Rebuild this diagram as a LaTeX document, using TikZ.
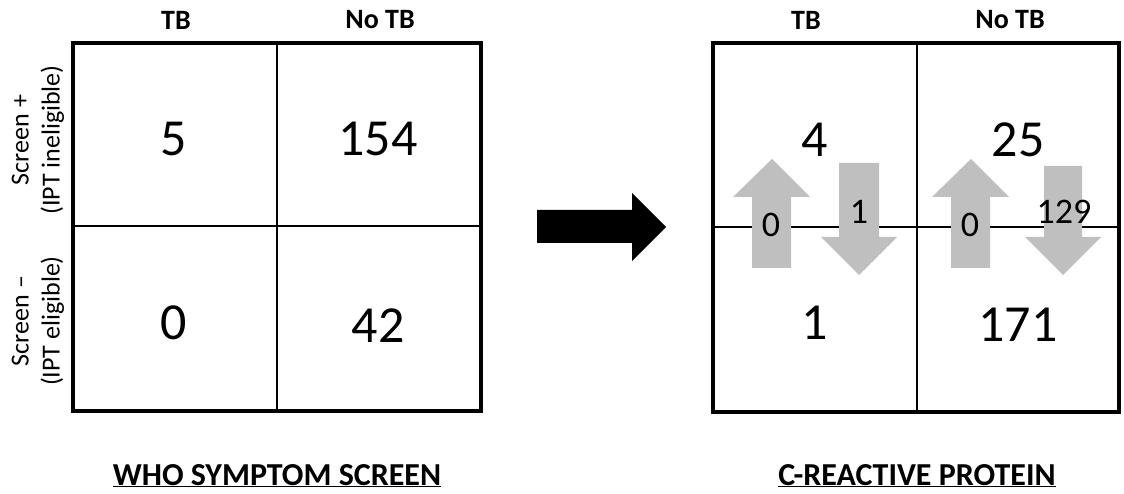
\documentclass[tikz,border=0pt]{standalone}
\usepackage{fontspec}
\setmainfont{Carlito}
\definecolor{arrowgray}{HTML}{BFBFBF}
\tikzset{
  frame/.style={draw=black, line width=3.5pt},
  divider/.style={draw=black, line width=1.2pt},
  count/.style={font=\fontsize{52}{60}\selectfont, inner sep=0pt},
  moved/.style={font=\fontsize{36}{42}\selectfont, inner sep=0pt},
  colhead/.style={font=\bfseries\fontsize{28}{32}\selectfont, inner sep=0pt},
  rowhead/.style={font=\fontsize{26}{31}\selectfont, rotate=90, align=center, inner sep=0pt},
  title/.style={font=\bfseries\fontsize{32}{36}\selectfont, inner sep=0pt},
  shiftarrow/.style={fill=arrowgray},
  bigarrow/.style={fill=black}
}

\begin{document}
\begin{tikzpicture}[x=1pt, y=-1pt]
  \useasboundingbox (0,0) rectangle (1124,494);

  % WHO symptom screen table
  \draw[divider] (277,43) -- (277,411);
  \draw[divider] (73,226) -- (481,226);
  \draw[frame] (73,43) rectangle (481,411);
  \node[colhead] (whoTB) at (176,20) {TB};
  \node[colhead] (whoNoTB) at (380,20) {No TB};
  \node[rowhead] (screenPos) at (38,140) {Screen +\\(IPT ineligible)};
  \node[rowhead] (screenNeg) at (38,321) {Screen --\\(IPT eligible)};
  \node[count] (whoA) at (174,139) {5};
  \node[count] (whoB) at (378,139) {154};
  \node[count] (whoC) at (174,323) {0};
  \node[count] (whoD) at (378,326) {42};
  \node[title, anchor=base] (whoTitle) at (277,485) {\underline{WHO SYMPTOM SCREEN}};

  % arrow between the tables
  \fill[bigarrow] (537,210) -- (632,210) -- (632,193) -- (666,227)
    -- (632,261) -- (632,243) -- (537,243) -- cycle;

  % C-reactive protein table
  \draw[divider] (917,43) -- (917,412);
  \draw[divider] (713,227) -- (1119,227);
  \draw[frame] (713,43) rectangle (1119,412);
  \node[colhead] (crpTB) at (806,20) {TB};
  \node[colhead] (crpNoTB) at (1010,20) {No TB};
  \node[count] (crpA) at (815,140) {4};
  \node[count] (crpB) at (1018,140) {25};
  \node[count] (crpC) at (815,323) {1};
  \node[count] (crpD) at (1018,325) {171};

  % reclassification arrows
  \fill[shiftarrow] (752,268) -- (752,197) -- (733,197) -- (772,159)
    -- (810,197) -- (791,197) -- (791,268) -- cycle;
  \fill[shiftarrow] (839,163) -- (879,163) -- (879,237) -- (897,237)
    -- (859,275) -- (821,237) -- (839,237) -- cycle;
  \fill[shiftarrow] (951,268) -- (951,197) -- (932,197) -- (971,159)
    -- (1009,197) -- (990,197) -- (990,268) -- cycle;
  \fill[shiftarrow] (1044,166) -- (1082,166) -- (1082,237) -- (1101,237)
    -- (1063,275) -- (1025,237) -- (1044,237) -- cycle;
  \node[moved] (upTB) at (771,225) {0};
  \node[moved] (downTB) at (859,212) {1};
  \node[moved] (upNoTB) at (970,225) {0};
  \node[moved] (downNoTB) at (1064,212) {129};

  \node[title, anchor=base] (crpTitle) at (917,485) {\underline{C-REACTIVE PROTEIN}};
\end{tikzpicture}
\end{document}
